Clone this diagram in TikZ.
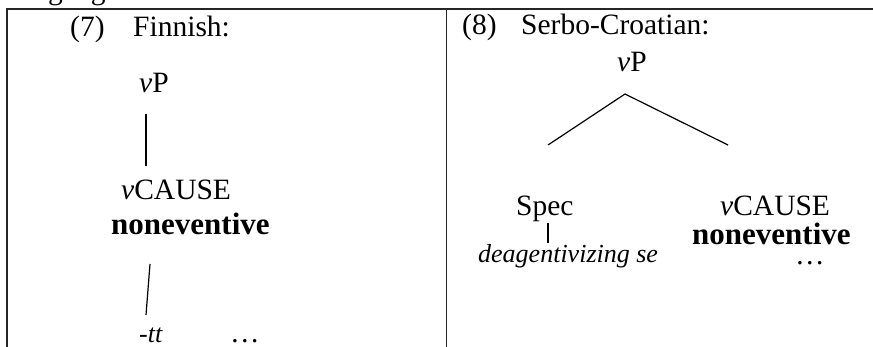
\documentclass[tikz,border=0pt]{standalone}
\usepackage{fontspec}
\setmainfont{Liberation Serif}
\begin{document}
\begin{tikzpicture}[x=1pt,y=-1pt,
  lbl/.style={anchor=base west,inner sep=0pt,font=\fontsize{29.5}{34}\selectfont},
  small/.style={lbl,font=\fontsize{26}{30}\selectfont},
  heavy/.style={lbl,font=\fontsize{31}{36}\selectfont\bfseries},
  frame/.style={line width=1.6pt,draw=black!85},
  branch/.style={line width=1.2pt}]
\useasboundingbox (0,0) rectangle (873,347);
\clip (0,0) rectangle (873,347);

% running text above the table, cut by the page edge
\node[lbl] (run) at (12,0) {languages:};

% table frame
\draw[frame] (7,347) -- (7,9) -- (880,9);
\draw[frame] (446.5,9) -- (446.5,347);

% (7) Finnish
\node[lbl] (n7) at (70,37) {(7)};
\node[lbl] (fin) at (133,37) {Finnish:};
\node[lbl] (fvp) at (139,93) {\textit{v}P};
\node[lbl] (fcause) at (121,200) {\textit{v}CAUSE};
\node[heavy] (fnon) at (111,235) {noneventive};
\node[small] (ftt) at (139,343) {\textit{-tt}};
\node[lbl] (fdots) at (230,343) {\dots};
\coordinate (f1a) at (146,114);
\coordinate (f1b) at (146,166);
\coordinate (f2a) at (150,264);
\coordinate (f2b) at (146,315);
\draw[branch] (f1a) -- (f1b);
\draw[branch] (f2a) -- (f2b);

% (8) Serbo-Croatian
\node[lbl] (n8) at (462,35) {(8)};
\node[lbl] (sc) at (521,35) {Serbo-Croatian:};
\node[lbl] (svp) at (617,72) {\textit{v}P};
\node[lbl] (spec) at (516,216) {Spec};
\node[lbl] (scause) at (720,216) {\textit{v}CAUSE};
\node[heavy] (snon) at (692,245) {noneventive};
\node[small] (sse) at (478,263) {\textit{deagentivizing se}};
\node[lbl] (sdots) at (795,265) {\dots};
\coordinate (apex) at (625,94);
\coordinate (sl) at (548,145);
\coordinate (sr) at (728,145);
\draw[branch] (sl) -- (apex) -- (sr);
\coordinate (spa) at (548,223);
\coordinate (spb) at (548,243);
\draw[branch] (spa) -- (spb);
\end{tikzpicture}
\end{document}
